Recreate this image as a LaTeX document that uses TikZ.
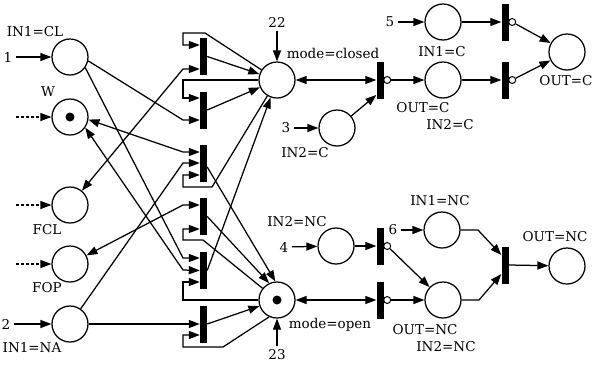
\documentclass[tikz,border=0pt]{standalone}
\usepackage{fontspec}
\setmainfont{DejaVu Serif}
\usetikzlibrary{arrows.meta}
\begin{document}
\begin{tikzpicture}[x=1pt,y=-1pt,
  every node/.style={font=\fontsize{13.5}{15}\selectfont},
  place/.style={circle,draw,line width=1.25pt,minimum size=36pt,inner sep=0pt},
  bar/.style={rectangle,fill=black,minimum width=7pt,minimum height=37pt,inner sep=0pt},
  knob/.style={circle,draw,fill=white,line width=1pt,minimum size=7pt,inner sep=0pt},
  token/.style={circle,fill=black,minimum size=9pt,inner sep=0pt},
  arc/.style={line width=1.25pt,-{Triangle[length=11pt,width=8pt]}},
  biarc/.style={line width=1.25pt,{Triangle[length=11pt,width=8pt]}-{Triangle[length=11pt,width=8pt]}},
  ext/.style={arc,dash pattern=on 3pt off 2pt}
]
\useasboundingbox (0,0) rectangle (592,365);

% places
\node[place] (pA)   at (70,57)  {};
\node[place] (pW)   at (70,117) {};
\node[token] (kW)   at (pW) {};
\node[place] (pFCL) at (70,205) {};
\node[place] (pFOP) at (70,264) {};
\node[place] (pB)   at (70,324) {};
\node[place] (pC)   at (277,80) {};
\node[place] (pO)   at (277,300) {};
\node[token] (kO)   at (pO) {};
\node[place] (pI2C) at (337,128) {};
\node[place] (pI1C) at (443,22) {};
\node[place] (pOC1) at (443,80) {};
\node[place] (pOC)  at (567,52) {};
\node[place] (pI2N) at (336,246) {};
\node[place] (pI1N) at (442,230) {};
\node[place] (pON1) at (443,300) {};
\node[place] (pON)  at (567,266) {};

% transitions
\node[bar] (t1)  at (203.5,56.5)  {};
\node[bar] (t2)  at (203.5,110)   {};
\node[bar] (t3)  at (203.5,163.5) {};
\node[bar] (t4)  at (203.5,216.5) {};
\node[bar] (t5)  at (203.5,270.5) {};
\node[bar] (t6)  at (203.5,324)   {};
\node[bar] (t7)  at (380,80)  {};
\node[bar] (t8)  at (505,22)  {};
\node[bar] (t9)  at (505,80)  {};
\node[bar] (t10) at (380,246) {};
\node[bar] (t11) at (380,300) {};
\node[bar] (t12) at (505,265) {};
\node[knob] (k7)  at ([xshift=3.5pt]t7.east)  {};
\node[knob] (k8)  at ([xshift=3.5pt]t8.east)  {};
\node[knob] (k9)  at ([xshift=3.5pt]t9.east)  {};
\node[knob] (k10) at ([xshift=3.5pt]t10.east) {};
\node[knob] (k11) at ([xshift=3.5pt]t11.east) {};

% labels
\node (lIn1CL)  at (35,32)   {IN1=CL};
\node (l1)      at (8,57)    {1};
\node (lW)      at (48,92)   {W};
\node (lFCL)    at (47,230)  {FCL};
\node (lFOP)    at (47,288)  {FOP};
\node (l2)      at (6,324)   {2};
\node (lIn1NA)  at (32,348)  {IN1=NA};
\node (l22)     at (277,22)  {22};
\node (lClosed) at (333,53)  {mode=closed};
\node (l23)     at (277,355) {23};
\node (lOpen)   at (330,325) {mode=open};
\node (l3)      at (286,128) {3};
\node (lIn2C)   at (305,153) {IN2=C};
\node (l5)      at (390,22)  {5};
\node (lIn1C)   at (442,52)  {IN1=C};
\node (lOutC1)  at (423,108) {OUT=C};
\node (lIn2Cb)  at (450,125) {IN2=C};
\node (lOutC)   at (566,81)  {OUT=C};
\node (lIn2NC)  at (297,222) {IN2=NC};
\node (l4)      at (284,247) {4};
\node (l6)      at (393,230) {6};
\node (lIn1NC)  at (440,201) {IN1=NC};
\node (lOutNC1) at (425,330) {OUT=NC};
\node (lIn2NCb) at (446,347) {IN2=NC};
\node (lOutNC)  at (555,237) {OUT=NC};

% external inputs
\coordinate (wIn)   at (16,117);
\coordinate (fclIn) at (16,205);
\coordinate (fopIn) at (16,264);
\draw[arc] (l1) -- (pA);
\draw[arc] (l2) -- (pB);
\draw[ext] (wIn) -- (pW);
\draw[ext] (fclIn) -- (pFCL);
\draw[ext] (fopIn) -- (pFOP);
\draw[arc] (l22) -- (pC);
\draw[arc] (l23) -- (pO);
\draw[arc] (l3) -- (pI2C);
\draw[arc] (l5) -- (pI1C);
\draw[arc] (l4) -- (pI2N);
\draw[arc] (l6) -- (pI1N);

% t1
\draw[arc] (pC) -- (205,33) -- (183,33) -- (183,45) -- ([yshift=11.5pt]t1.west);
\draw[biarc] (pFCL) -- (183,69) -- ([yshift=-12.5pt]t1.west);
\draw[arc] (t1.east) -- (pC);
% t2
\draw[arc] (pC.west) -- (183,80) -- (183,98) -- ([yshift=12pt]t2.west);
\draw[arc] (pA.-12) -- (183,120) -- ([yshift=-10pt]t2.west);
\draw[arc] (t2.east) -- (pC);
% t3
\draw[biarc] (pW.-8) -- (183,152) -- ([yshift=11.5pt]t3.west);
\draw[arc] (pB) -- (183,163) -- ([yshift=0.5pt]t3.west);
\draw[arc] (pC) -- (212,187) -- (183,187) -- (183,175) -- ([yshift=-11.5pt]t3.west);
\draw[arc] ([yshift=-3.5pt]t3.east) -- (pO.95);
% t4
\draw[biarc] (pFOP) -- (183,205) -- ([yshift=11.5pt]t4.west);
\draw[arc] (pO) -- (203,240) -- (183,240) -- (183,229) -- ([yshift=-12.5pt]t4.west);
\draw[arc] (t4.east) -- (pO.115);
% t5
\draw[arc] (pA.-35) -- (183,258) -- ([yshift=12.5pt]t5.west);
\draw[biarc] (pW.-35) -- (183,270) -- (t5.west);
\draw[arc] (pO.west) -- (183,300) -- (183,282) -- ([yshift=-11.5pt]t5.west);
\draw[arc] (t5.east) -- (pC);
% t6
\draw[arc] (pB) -- (t6.west);
\draw[arc] (pO.-115) -- (223,347) -- (183,347) -- (183,335) -- ([yshift=-11pt]t6.west);
\draw[arc] (t6.east) -- (pO);

% right-hand nets
\draw[biarc] (pC) -- (t7.west);
\draw[arc] (pI2C) -- ([yshift=-15pt]t7.west);
\draw[arc] (k7) -- (pOC1);
\draw[arc] (pI1C) -- (t8.west);
\draw[arc] (k8) -- (pOC);
\draw[arc] (pOC1) -- (t9.west);
\draw[arc] (k9) -- (pOC);
\draw[arc] (pI2N) -- (t10.west);
\draw[arc] (k10) -- (pON1);
\draw[biarc] (pO) -- (t11.west);
\draw[arc] (k11) -- (pON1);
\draw[arc] (pI1N.east) -- (478,230) -- ([yshift=10pt]t12.west);
\draw[arc] (pON1.east) -- (479,300) -- ([yshift=-9pt]t12.west);
\draw[arc] (t12.east) -- (pON);
\end{tikzpicture}
\end{document}
